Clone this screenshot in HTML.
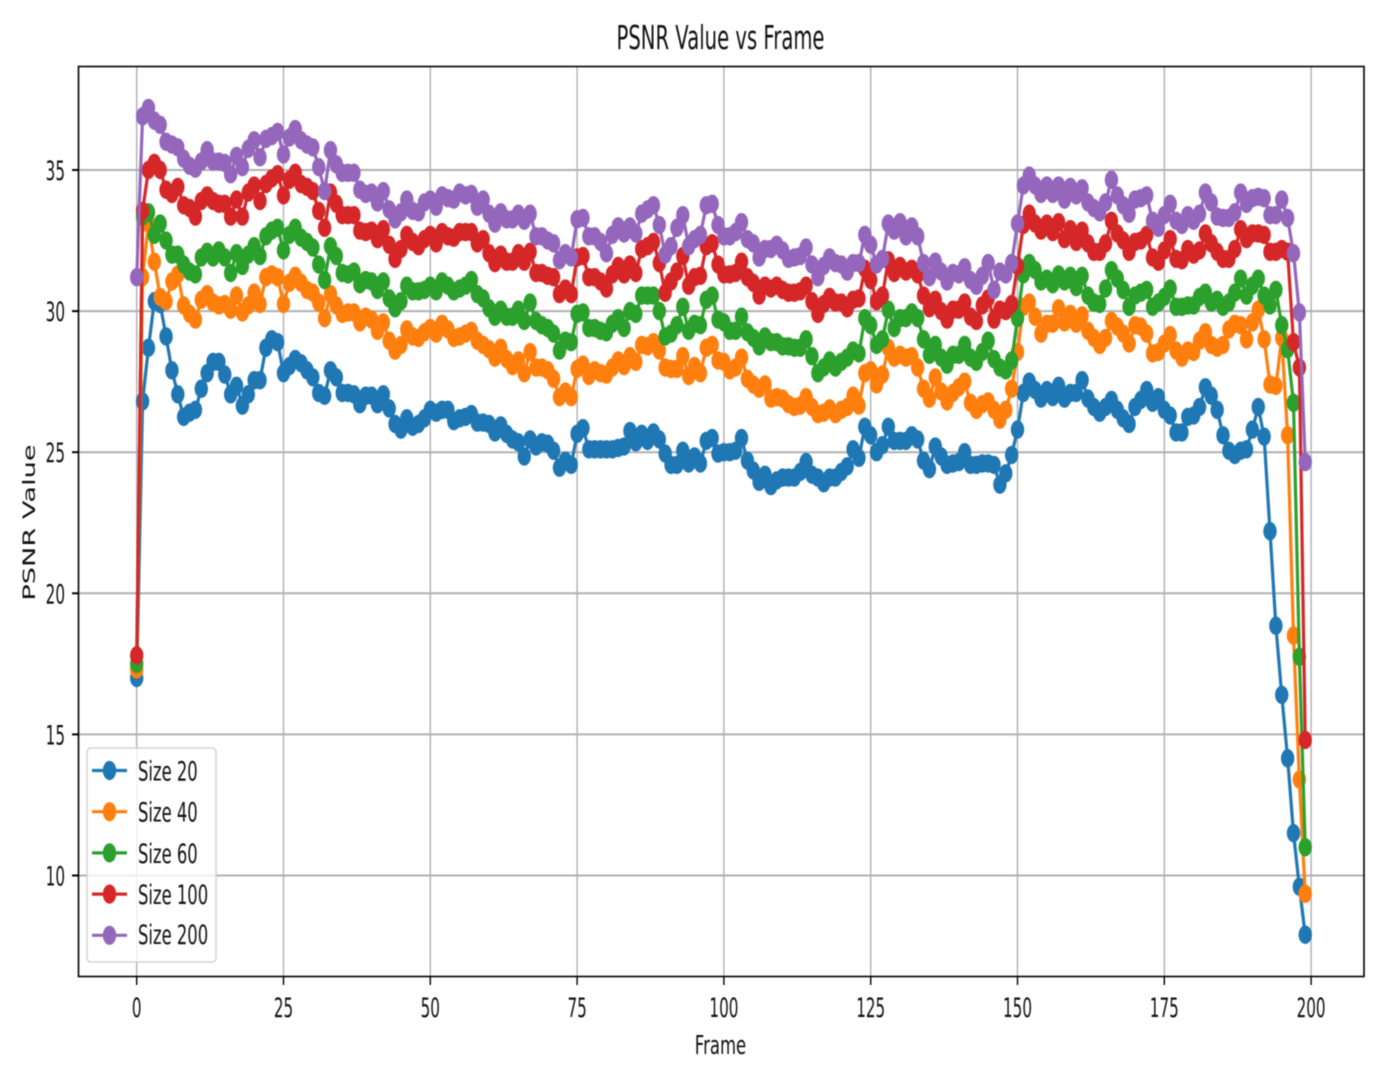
<!DOCTYPE html>
<html lang="en">
<head>
<meta charset="utf-8">
<title>PSNR Value vs Frame</title>
<style>
  html, body { margin: 0; padding: 0; background: #fff; }
  #chart { display: block; width: 1397px; height: 1077px; filter: blur(0.6px); }
  text { font-family: "DejaVu Sans", "Liberation Sans", sans-serif; fill: #111; }
</style>
</head>
<body>
<svg id="chart" xmlns="http://www.w3.org/2000/svg" width="1397" height="1077" viewBox="0 0 1397 1077">
  <rect x="0" y="0" width="1397" height="1077" fill="#ffffff"></rect>
  <rect x="78.5" y="66.5" width="1285.5" height="910" fill="#ffffff"></rect>
  <g id="grid"></g>
  <g id="series"></g>
  <rect x="78.5" y="66.5" width="1285.5" height="910" fill="none" stroke="#000" stroke-width="1.6"></rect>
  <g id="ticks"></g>
  <text text-anchor="middle" font-size="12" transform="translate(720.5,49) scale(1.635,2.75)">PSNR Value vs Frame</text>
  <text text-anchor="middle" font-size="10" transform="translate(720.5,1054) scale(1.65,2.6)">Frame</text>
  <text text-anchor="middle" font-size="10" transform="translate(35,522.5) scale(1.7,2.72) rotate(-90)">PSNR Value</text>
  <g id="legend">
    <rect x="87" y="748" width="129" height="214" rx="4" ry="4" fill="#ffffff" fill-opacity="0.8" stroke="#d4d4d4" stroke-width="1.5"></rect>
  </g>
</svg>
<script>
const seriesNames = ["Size 20", "Size 40", "Size 60", "Size 100", "Size 200"];
const xTickLabels = [0, 25, 50, 75, 100, 125, 150, 175, 200];
const yTickLabels = [10, 15, 20, 25, 30, 35];

const size20 = [
17.0,26.8,28.7,30.35,30.25,29.1,27.9,27.05,26.25,26.4,
26.5,27.25,27.8,28.2,28.2,27.75,27.05,27.35,26.65,27.05,
27.55,27.55,28.7,29.0,28.9,27.8,28.05,28.3,28.15,27.9,
27.65,27.1,27.0,27.9,27.65,27.1,27.1,27.05,26.7,27.0,
27.0,26.7,27.05,26.55,26.0,25.8,26.2,25.9,26.0,26.2,
26.5,26.4,26.5,26.5,26.1,26.2,26.25,26.35,26.05,26.05,
26.0,25.7,25.95,25.65,25.45,25.35,24.85,25.45,25.2,25.35,
25.3,25.05,24.45,24.7,24.55,25.65,25.85,25.1,25.1,25.1,
25.1,25.1,25.15,25.2,25.75,25.35,25.65,25.4,25.7,25.45,
24.95,24.55,24.55,25.05,24.6,24.85,24.6,25.4,25.5,24.95,
25.0,25.0,25.05,25.5,24.7,24.35,23.95,24.2,23.8,24.0,
24.1,24.1,24.1,24.3,24.65,24.2,24.1,23.9,24.1,24.1,
24.3,24.5,25.1,24.8,25.9,25.6,25.0,25.25,25.9,25.4,
25.4,25.4,25.6,25.45,24.7,24.4,25.2,24.85,24.55,24.6,
24.65,25.0,24.55,24.55,24.6,24.6,24.55,23.85,24.25,24.9,
25.8,27.1,27.5,27.2,26.9,27.2,26.95,27.35,26.9,27.1,
27.1,27.55,26.9,26.6,26.4,26.6,26.85,26.5,26.2,26.0,
26.6,26.85,27.2,26.75,26.95,26.5,26.3,25.7,25.7,26.25,
26.3,26.6,27.3,27.0,26.5,25.6,25.05,24.9,25.05,25.1,
25.8,26.6,25.55,22.2,18.85,16.4,14.15,11.5,9.6,7.9];

const size40 = [
17.3,31.2,33.1,31.75,30.5,30.35,31.05,31.3,30.2,29.9,
29.7,30.4,30.6,30.3,30.2,30.25,30.05,30.55,29.95,30.2,
30.65,30.25,31.2,31.3,31.2,30.25,31.0,31.25,31.0,30.75,
30.65,30.3,29.75,30.6,30.2,29.9,29.95,29.95,29.6,29.8,
29.7,29.3,29.6,28.95,28.6,28.8,29.35,29.1,29.05,29.25,
29.4,29.2,29.55,29.35,29.05,29.1,29.2,29.3,28.95,28.8,
28.65,28.35,28.7,28.3,28.05,28.25,27.8,28.55,28.0,28.0,
27.9,27.6,26.95,27.15,26.95,27.95,28.1,27.7,27.9,27.8,
27.75,28.0,28.25,28.05,28.4,28.2,28.8,28.75,28.9,28.6,
28.0,27.95,27.95,28.4,27.7,28.05,27.8,28.7,28.8,28.25,
28.2,27.9,28.0,28.35,27.6,27.4,27.25,27.4,26.9,26.95,
26.9,26.7,26.6,26.65,26.95,26.6,26.35,26.4,26.55,26.35,
26.5,26.6,27.0,26.65,27.8,27.9,27.4,27.75,28.7,28.35,
28.45,28.35,28.4,28.0,27.25,26.9,27.65,27.15,26.8,27.1,
27.3,27.5,26.75,26.5,26.7,26.8,26.5,26.15,26.5,27.25,
28.55,30.15,30.3,29.8,29.2,29.55,29.55,30.1,29.6,29.9,
29.55,29.85,29.3,29.05,28.8,29.05,29.65,29.45,29.2,28.85,
29.5,29.45,29.2,28.5,28.55,28.85,29.15,28.6,28.35,28.6,
28.55,28.95,29.25,28.8,28.7,28.8,29.35,29.55,29.5,29.0,
29.6,30.05,29.0,27.4,27.35,29.05,25.6,18.5,13.4,9.35];

const size60 = [
17.5,33.35,33.5,32.7,33.1,32.5,32.0,32.0,31.65,31.4,
31.3,31.9,32.1,31.9,32.15,31.9,31.35,32.05,31.6,32.0,
32.3,31.95,32.65,32.85,32.95,32.15,32.7,32.95,32.6,32.45,
32.25,31.65,31.1,32.3,31.95,31.35,31.3,31.4,30.95,31.1,
31.05,30.75,31.05,30.45,30.1,30.35,30.9,30.7,30.7,30.75,
30.9,30.7,31.05,30.9,30.7,30.8,30.9,31.1,30.6,30.45,
30.1,29.8,30.05,29.8,29.8,30.05,29.65,30.3,29.65,29.5,
29.4,29.2,28.6,28.95,28.9,29.9,29.95,29.4,29.4,29.3,
29.25,29.55,29.75,29.4,30.0,29.9,30.55,30.55,30.55,30.0,
29.1,29.2,29.5,30.15,29.3,29.55,29.5,30.4,30.55,29.7,
29.6,29.3,29.3,29.8,29.25,29.05,28.75,29.1,28.9,28.9,
28.75,28.75,28.7,28.7,29.0,28.4,27.8,28.0,28.25,28.0,
28.2,28.35,28.6,28.5,29.75,29.5,28.8,29.0,30.05,29.4,
29.75,29.75,29.95,29.75,29.0,28.45,28.8,28.35,28.1,28.45,
28.45,28.8,28.35,28.2,28.55,28.95,28.3,28.0,27.9,28.25,
29.75,31.3,31.7,31.45,31.05,31.15,30.95,31.3,31.05,31.25,
30.85,31.25,30.55,30.3,30.25,30.8,31.45,31.15,30.75,30.15,
30.55,30.65,30.75,30.15,30.3,30.5,30.8,30.15,30.15,30.2,
30.2,30.5,30.65,30.3,30.4,30.15,30.3,30.65,31.15,30.55,
30.9,31.15,30.55,30.2,30.75,29.5,28.65,26.75,17.75,11.0];

const size100 = [
17.8,33.55,35.0,35.25,35.0,34.3,34.15,34.4,33.75,33.65,
33.35,33.9,34.1,33.9,33.8,33.8,33.35,33.95,33.35,34.2,
34.45,33.9,34.5,34.7,34.85,34.1,34.65,34.9,34.5,34.4,
34.25,33.55,32.95,34.2,33.8,33.4,33.4,33.4,32.85,32.8,
32.85,32.55,32.9,32.35,31.85,32.2,32.7,32.45,32.3,32.55,
32.7,32.4,32.8,32.65,32.6,32.8,32.8,32.8,32.4,32.55,
32.05,31.7,32.0,31.75,31.75,32.05,31.75,32.1,31.35,31.35,
31.25,31.2,30.6,30.8,30.6,31.9,31.95,31.2,31.2,31.05,
30.8,31.3,31.6,31.3,31.65,31.35,32.2,32.3,32.45,31.7,
30.65,31.05,31.4,31.95,30.9,31.2,31.25,32.3,32.4,31.65,
31.3,31.3,31.35,31.75,31.2,31.0,30.55,30.9,30.8,30.9,
30.75,30.65,30.65,30.7,30.9,30.35,29.9,30.25,30.5,30.3,
30.3,30.1,30.4,30.45,31.5,31.1,30.35,30.55,31.8,31.35,
31.6,31.4,31.5,31.3,30.55,30.1,30.4,30.0,29.7,30.05,
30.05,30.3,29.8,29.65,30.2,30.45,29.7,30.05,30.0,30.25,
31.6,33.05,33.45,33.1,32.85,33.1,32.8,33.15,32.55,32.9,
32.45,32.85,32.4,32.1,32.1,32.4,33.2,32.75,32.5,32.1,
32.45,32.5,32.7,31.9,31.75,32.15,32.55,31.85,31.8,32.2,
32.0,32.15,32.75,32.4,32.1,31.85,31.85,32.2,32.9,32.55,
32.75,32.75,32.7,32.1,32.1,32.2,32.1,28.9,28.0,14.8];

const size200 = [
31.2,36.9,37.2,36.75,36.6,36.0,35.9,35.8,35.4,35.15,
35.05,35.3,35.7,35.3,35.3,35.25,34.85,35.5,35.1,35.75,
36.05,35.45,36.1,36.2,36.35,35.55,36.15,36.45,36.05,35.9,
35.8,35.1,34.25,35.7,35.2,34.9,34.9,34.9,34.3,34.15,
34.2,33.85,34.25,33.6,33.25,33.5,33.95,33.55,33.5,33.85,
33.95,33.7,34.1,34.0,33.95,34.2,34.1,34.15,33.7,33.95,
33.45,33.1,33.5,33.25,33.25,33.45,33.2,33.45,32.65,32.65,
32.5,32.4,31.8,32.05,31.9,33.25,33.3,32.65,32.65,32.45,
32.05,32.7,33.0,32.75,33.0,32.75,33.45,33.6,33.75,33.05,
32.0,32.3,32.95,33.4,32.3,32.55,32.7,33.75,33.8,33.05,
32.65,32.65,32.8,33.15,32.55,32.4,31.9,32.2,32.2,32.35,
32.15,31.85,31.9,31.95,32.25,31.65,31.2,31.6,31.9,31.7,
31.65,31.4,31.7,31.7,32.7,32.35,31.65,31.85,33.1,32.85,
33.15,32.65,33.0,32.65,31.7,31.2,31.75,31.4,31.05,31.35,
31.3,31.55,31.1,30.9,31.25,31.7,30.75,31.4,31.3,31.7,
33.1,34.45,34.8,34.45,34.15,34.45,34.15,34.45,33.95,34.4,
34.1,34.35,33.85,33.65,33.5,33.85,34.65,34.1,33.75,33.45,
33.95,34.0,34.1,33.2,32.95,33.4,33.8,33.2,33.05,33.4,
33.2,33.45,34.2,33.85,33.35,33.3,33.3,33.5,34.2,33.8,
34.0,34.05,34.0,33.4,33.4,33.95,33.3,32.05,29.95,24.65];

const allSeries = [size20, size40, size60, size100, size200];
const palette = ["#1f77b4", "#ff7f0e", "#2ca02c", "#d62728", "#9467bd"];

const NS = "http://www.w3.org/2000/svg";
function xScale(frame) { return 136.7 + frame * 5.872; }
function yScale(value) { return 170 + (35 - value) * 28.22; }
function slug(name) { return name.toLowerCase().replace(/\s+/g, "-"); }

const gridGroup = document.getElementById("grid");
const tickGroup = document.getElementById("ticks");
const seriesGroup = document.getElementById("series");
const legendGroup = document.getElementById("legend");

xTickLabels.forEach(function (t) {
  const px = xScale(t);
  const grid = document.createElementNS(NS, "line");
  
  
  grid.setAttribute("x1", px); grid.setAttribute("x2", px);
  grid.setAttribute("y1", 66); grid.setAttribute("y2", 976);
  grid.setAttribute("stroke", "#b0b0b0"); grid.setAttribute("stroke-width", 1.4);
  gridGroup.appendChild(grid);

  const tick = document.createElementNS(NS, "line");
  
  
  tick.setAttribute("x1", px); tick.setAttribute("x2", px);
  tick.setAttribute("y1", 976); tick.setAttribute("y2", 985);
  tick.setAttribute("stroke", "#000"); tick.setAttribute("stroke-width", 1.4);
  tickGroup.appendChild(tick);

  const label = document.createElementNS(NS, "text");
  
  
  label.setAttribute("text-anchor", "middle");
  label.setAttribute("font-size", 10);
  label.setAttribute("transform", "translate(" + px + ",1017) scale(1.52,2.7)");
  label.textContent = t;
  tickGroup.appendChild(label);
});

yTickLabels.forEach(function (t) {
  const py = yScale(t);
  const grid = document.createElementNS(NS, "line");
  
  
  grid.setAttribute("x1", 78); grid.setAttribute("x2", 1364);
  grid.setAttribute("y1", py); grid.setAttribute("y2", py);
  grid.setAttribute("stroke", "#b0b0b0"); grid.setAttribute("stroke-width", 2);
  gridGroup.appendChild(grid);

  const tick = document.createElementNS(NS, "line");
  
  
  tick.setAttribute("x1", 72); tick.setAttribute("x2", 78);
  tick.setAttribute("y1", py); tick.setAttribute("y2", py);
  tick.setAttribute("stroke", "#000"); tick.setAttribute("stroke-width", 2);
  tickGroup.appendChild(tick);

  const label = document.createElementNS(NS, "text");
  
  
  label.setAttribute("text-anchor", "end");
  label.setAttribute("font-size", 10);
  label.setAttribute("transform", "translate(65," + (py + 10) + ") scale(1.52,2.7)");
  label.textContent = t;
  tickGroup.appendChild(label);
});

allSeries.forEach(function (values, s) {
  const group = document.createElementNS(NS, "g");
  
  

  const line = document.createElementNS(NS, "polyline");
  
  
  line.setAttribute("points", values.map(function (v, i) { return xScale(i) + "," + yScale(v); }).join(" "));
  line.setAttribute("fill", "none");
  line.setAttribute("stroke", palette[s]);
  line.setAttribute("stroke-width", 3.2);
  group.appendChild(line);

  values.forEach(function (v, i) {
    const point = document.createElementNS(NS, "ellipse");
    
    
    point.setAttribute("cx", xScale(i));
    point.setAttribute("cy", yScale(v));
    point.setAttribute("rx", 6.7);
    point.setAttribute("ry", 9.2);
    point.setAttribute("fill", palette[s]);
    group.appendChild(point);
  });
  seriesGroup.appendChild(group);
});

seriesNames.forEach(function (name, s) {
  const rowY = 770.5 + s * 41.2;
  const entry = document.createElementNS(NS, "g");
  
  

  const sample = document.createElementNS(NS, "line");
  
  
  sample.setAttribute("x1", 92); sample.setAttribute("x2", 127);
  sample.setAttribute("y1", rowY); sample.setAttribute("y2", rowY);
  sample.setAttribute("stroke", palette[s]); sample.setAttribute("stroke-width", 3.2);
  entry.appendChild(sample);

  const dot = document.createElementNS(NS, "ellipse");
  
  
  dot.setAttribute("cx", 109.5); dot.setAttribute("cy", rowY);
  dot.setAttribute("rx", 6.7); dot.setAttribute("ry", 9.6);
  dot.setAttribute("fill", palette[s]);
  entry.appendChild(dot);

  const label = document.createElementNS(NS, "text");
  
  
  label.setAttribute("font-size", 10);
  label.setAttribute("transform", "translate(138," + (rowY + (s === 4 ? 8.5 : 10)) + ") scale(1.64,2.7)");
  label.textContent = name;
  entry.appendChild(label);

  legendGroup.appendChild(entry);
});
</script>
</body>
</html>
